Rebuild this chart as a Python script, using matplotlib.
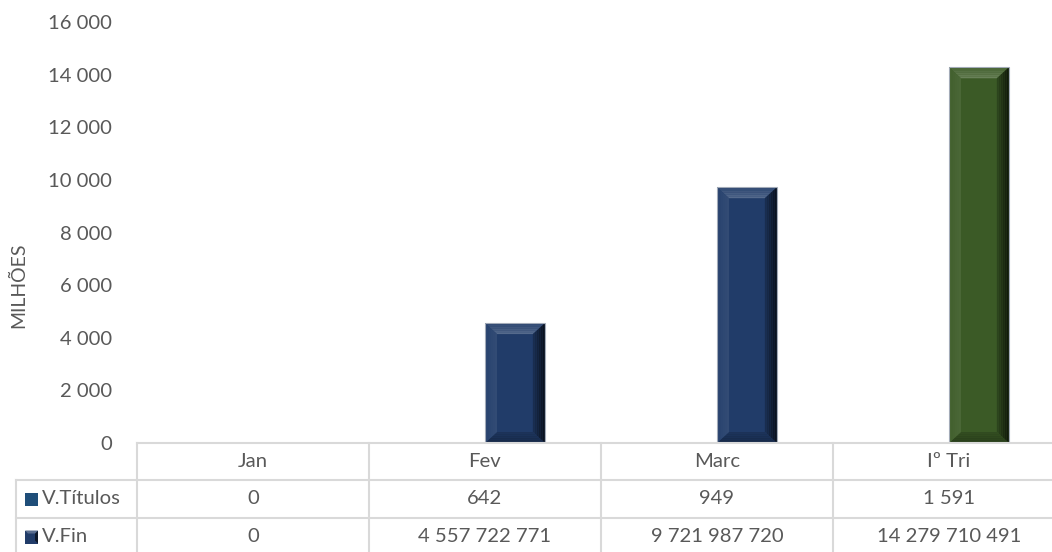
import numpy as np
import matplotlib.pyplot as plt
import matplotlib.colors as mc
from matplotlib.patches import Polygon, Rectangle
import matplotlib.transforms as mtransforms

plt.rcParams['font.family'] = ['Lato', 'DejaVu Sans']

categorias = ['Jan', 'Fev', 'Marc', 'Iº Tri']
v_titulos = [0, 642, 949, 1591]
v_fin = [0, 4557722771, 9721987720, 14279710491]
series = ['V.Títulos', 'V.Fin']

cinza = '#595959'
linha = '#d9d9d9'
azul = '#213c69'
verde = '#3b5a26'
cor_titulos = '#1f4e79'
fs = 14.6

W, H = 1052, 552
fig = plt.figure(figsize=(W / 100, H / 100), dpi=100)

# area do grafico em pixeis (a ultima coluna fica cortada a direita)
x0, x1 = 137, 1065
y0, y1 = 443, 22
ax = fig.add_axes([x0 / W, (H - y0) / H, (x1 - x0) / W, (y0 - y1) / H])

n = len(categorias)
x = np.arange(n)
larg = 0.258

milhoes_tit = np.array(v_titulos) / 1e6
milhoes_fin = np.array(v_fin) / 1e6
cores_fin = [azul, azul, azul, verde]

ax.bar(x - larg / 2, milhoes_tit, larg, color=cor_titulos, linewidth=0)
barras = ax.bar(x + larg / 2, milhoes_fin, larg, color=cores_fin, linewidth=0, zorder=2)


def mistura(c, alvo, t):
    a = np.array(mc.to_rgb(c))
    b = np.array(mc.to_rgb(alvo))
    return tuple(a + (b - a) * t)


ax.set_xlim(-0.5, n - 0.5)
ax.set_ylim(0, 16000)

# efeito de bisel nas barras, em faixas para dar gradiente
bx = 12 / (x1 - x0) * n
by = 11 / (y0 - y1) * 16000
passos = 6
for b, c in zip(barras, cores_fin):
    h = b.get_height()
    if h <= 0:
        continue
    l, r = b.get_x(), b.get_x() + b.get_width()
    t = h
    for j in range(passos):
        f0, f1 = j / passos, (j + 1) / passos
        u = (j + 0.5) / passos
        # topo: mais claro junto ao interior
        pts = [(l + bx * f0, t - by * f0), (r - bx * f0, t - by * f0),
               (r - bx * f1, t - by * f1), (l + bx * f1, t - by * f1)]
        ax.add_patch(Polygon(pts, facecolor=mistura(c, 'white', 0.05 + 0.2 * u),
                             edgecolor='none', zorder=3))
        # lado direito: escuro junto a aresta
        pts = [(r - bx * f0, t - by * f0), (r - bx * f0, by * f0),
               (r - bx * f1, by * f1), (r - bx * f1, t - by * f1)]
        ax.add_patch(Polygon(pts, facecolor=mistura(c, 'black', 0.75 - 0.55 * u),
                             edgecolor='none', zorder=3))
        # base
        pts = [(l + bx * f0, by * f0), (r - bx * f0, by * f0),
               (r - bx * f1, by * f1), (l + bx * f1, by * f1)]
        ax.add_patch(Polygon(pts, facecolor=mistura(c, 'black', 0.35 - 0.2 * u),
                             edgecolor='none', zorder=3))
        # lado esquerdo
        pts = [(l + bx * f0, t - by * f0), (l + bx * f0, by * f0),
               (l + bx * f1, by * f1), (l + bx * f1, t - by * f1)]
        ax.add_patch(Polygon(pts, facecolor=mistura(c, 'white', 0.03 + 0.05 * u),
                             edgecolor='none', zorder=3))
    ax.add_patch(Rectangle((l, 0), r - l, h, facecolor='none',
                           edgecolor='#a3abb8', linewidth=0.8, zorder=4))

ax.set_yticks(np.arange(0, 16001, 2000))
ax.set_yticklabels([f'{v:,}'.replace(',', ' ') for v in range(0, 16001, 2000)])
ax.tick_params(axis='y', length=0, pad=18, labelsize=fs, labelcolor=cinza)
ax.set_xticks([])
for s in ax.spines.values():
    s.set_visible(False)

fig.text(19 / W, 1 - 285 / H, 'MILHÕES', rotation=90, ha='center', va='center',
         fontsize=fs - 0.6, color=cinza)

# tabela de dados
tr = mtransforms.blended_transform_factory(ax.transData, fig.transFigure)
fy = lambda py: 1 - py / H
linhas_y = [443, 480, 518, 556]
bordas = np.arange(n + 1) - 0.5

lw = 1.5
fig.add_artist(plt.Line2D([-0.5, n - 0.5], [fy(443)] * 2, transform=tr, color=linha, lw=lw))
for yy in linhas_y[1:]:
    fig.add_artist(plt.Line2D([16 / W, 1], [fy(yy)] * 2, transform=fig.transFigure,
                              color=linha, lw=lw))
for xb in bordas:
    fig.add_artist(plt.Line2D([xb, xb], [fy(443), fy(556)], transform=tr, color=linha, lw=lw))
fig.add_artist(plt.Line2D([16 / W] * 2, [fy(480), fy(556)], transform=fig.transFigure,
                          color=linha, lw=lw))

centros_y = [(a + b) / 2 for a, b in zip(linhas_y[:-1], linhas_y[1:])]
fmt = lambda v: f'{v:,}'.replace(',', ' ')
for i, cat in enumerate(categorias):
    fig.text(x[i], fy(centros_y[0]), cat, transform=tr, ha='center', va='center',
             fontsize=fs, color=cinza)
    fig.text(x[i], fy(centros_y[1]), fmt(v_titulos[i]), transform=tr, ha='center',
             va='center', fontsize=fs, color=cinza)
    fig.text(x[i], fy(centros_y[2]), fmt(v_fin[i]), transform=tr, ha='center',
             va='center', fontsize=fs, color=cinza)

# chaves da legenda
k = 13
fig.add_artist(Rectangle((25 / W, fy(centros_y[1] + k / 2)), k / W, k / H,
                         transform=fig.transFigure, facecolor=cor_titulos, edgecolor='none'))
kx, ky = 25, centros_y[2] + k / 2
fig.add_artist(Rectangle((kx / W, fy(ky)), k / W, k / H, transform=fig.transFigure,
                         facecolor=azul, edgecolor='none'))
s = 3
pts = [(kx + k, ky), (kx + k, ky - k), (kx + k - s, ky - k + s), (kx + k - s, ky - s)]
fig.add_artist(Polygon([(px / W, fy(py)) for px, py in pts], closed=True,
                       transform=fig.transFigure, facecolor=mistura(azul, 'black', 0.6),
                       edgecolor='none'))
pts = [(kx, ky - k), (kx + k, ky - k), (kx + k - s, ky - k + s), (kx + s, ky - k + s)]
fig.add_artist(Polygon([(px / W, fy(py)) for px, py in pts], closed=True,
                       transform=fig.transFigure, facecolor=mistura(azul, 'white', 0.25),
                       edgecolor='none'))

fig.text(42 / W, fy(centros_y[1]), series[0], ha='left', va='center', fontsize=fs, color=cinza)
fig.text(42 / W, fy(centros_y[2]), series[1], ha='left', va='center', fontsize=fs, color=cinza)

fig.savefig('out.png', dpi=100)
